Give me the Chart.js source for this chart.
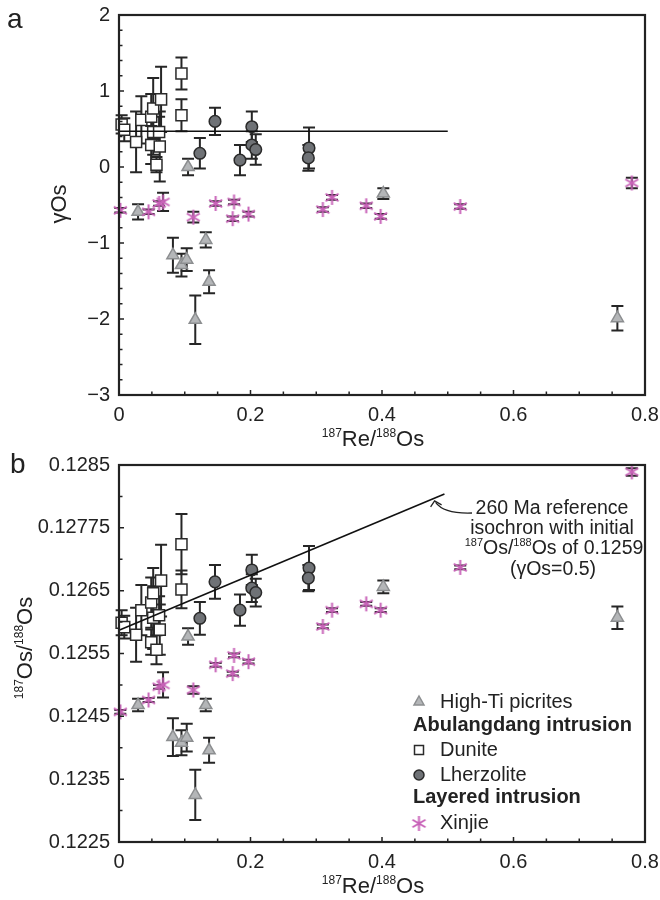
<!DOCTYPE html>
<html>
<head>
<meta charset="utf-8">
<script src="https://cdn.jsdelivr.net/npm/chart.js@4.4.0/dist/chart.umd.min.js"></script>
<style>
  body { margin: 0; background: #fff; }
  canvas { display: block; }
</style>
</head>
<body>
<canvas id="chartA" width="660" height="450"></canvas>
<canvas id="chartB" width="660" height="450"></canvas>
<script>
// ---- data (187Re/188Os is shared by both panels) ----
const highTiRe = [0.029, 0.105, 0.082, 0.095, 0.103, 0.132, 0.137, 0.116, 0.402, 0.758];
const highTiGamma = [-0.59, 0.00, -1.16, -1.29, -1.22, -0.96, -1.51, -2.01, -0.35, -1.99];
const highTiGammaErr = [0.10, 0.11, 0.23, 0.15, 0.15, 0.10, 0.15, 0.32, 0.07, 0.16];
const highTiOs = [0.12468, 0.12577, 0.12417, 0.12408, 0.12416, 0.12468, 0.12396, 0.12325, 0.12656, 0.12607];
const highTiOsErr = [0.00010, 0.00013, 0.00030, 0.00020, 0.00022, 0.00010, 0.00020, 0.00040, 0.00010, 0.00018];

const duniteRe = [0.004, 0.008, 0.026, 0.034, 0.049, 0.049, 0.052, 0.052, 0.057, 0.061, 0.062, 0.064, 0.095, 0.095];
const duniteGamma = [0.56, 0.49, 0.33, 0.62, 0.66, 0.29, 0.77, 0.46, 0.03, 0.46, 0.27, 0.89, 1.23, 0.68];
const duniteGammaErr = [0.12, 0.15, 0.40, 0.31, 0.30, 0.25, 0.40, 0.30, 0.10, 0.20, 0.46, 0.43, 0.21, 0.21];
const duniteOs = [0.12599, 0.12592, 0.12580, 0.12619, 0.12631, 0.12568, 0.12646, 0.12607, 0.12556, 0.12611, 0.12588, 0.12666, 0.12724, 0.12652];
const duniteOsErr = [0.00020, 0.00018, 0.00043, 0.00040, 0.00040, 0.00020, 0.00040, 0.00050, 0.00023, 0.00030, 0.00040, 0.00057, 0.00048, 0.00030];

const lherzRe = [0.123, 0.146, 0.184, 0.202, 0.202, 0.208, 0.289, 0.288];
const lherzGamma = [0.18, 0.60, 0.09, 0.53, 0.29, 0.23, 0.25, 0.12];
const lherzGammaErr = [0.20, 0.18, 0.20, 0.20, 0.18, 0.20, 0.27, 0.17];
const lherzOs = [0.12606, 0.12664, 0.12619, 0.12683, 0.12654, 0.12647, 0.12686, 0.12670];
const lherzOsErr = [0.00026, 0.00027, 0.00025, 0.00024, 0.00022, 0.00022, 0.00035, 0.00021];

const xinjieRe = [0.002, 0.045, 0.061, 0.067, 0.113, 0.147, 0.175, 0.173, 0.197, 0.310, 0.324, 0.376, 0.398, 0.519, 0.780];
const xinjieGamma = [-0.57, -0.59, -0.48, -0.46, -0.66, -0.48, -0.46, -0.68, -0.62, -0.56, -0.40, -0.51, -0.65, -0.52, -0.21];
const xinjieGammaErr = [0.03, 0.03, 0.03, 0.12, 0.07, 0.03, 0.03, 0.03, 0.03, 0.03, 0.03, 0.03, 0.03, 0.03, 0.07];
const xinjieOs = [0.12457, 0.12476, 0.12497, 0.12500, 0.12492, 0.12532, 0.12547, 0.12518, 0.12537, 0.12593, 0.12619, 0.12629, 0.12619, 0.12687, 0.12839];
const xinjieOsErr = [0.00003, 0.00003, 0.00003, 0.00020, 0.00006, 0.00003, 0.00003, 0.00003, 0.00003, 0.00003, 0.00003, 0.00003, 0.00003, 0.00003, 0.00006];

// 260 Ma reference isochron
const isoGammaX = [0, 0.5];
const isoGammaY = [0.47, 0.47];
const isoOsX = [0, 0.495];
const isoOsY = [0.12587, 0.12804];

// ticks
const xTicks = [0, 0.2, 0.4, 0.6, 0.8];
const xTickLabels = ["0", "0.2", "0.4", "0.6", "0.8"];
const gammaTicks = [-3, -2, -1, 0, 1, 2];
const gammaTickLabels = ["\u22123", "\u22122", "\u22121", "0", "1", "2"];
const osTicks = [0.1225, 0.1235, 0.1245, 0.1255, 0.1265, 0.1275, 0.1285];
const osTickLabels = ["0.1225", "0.1235", "0.1245", "0.1255", "0.1265", "0.12775", "0.1285"];

const FONT = "'Liberation Sans', Arial, sans-serif";
const INK = "#222";
const PINK = "#c862b8";
Chart.defaults.font.family = FONT;
Chart.defaults.color = INK;

const pts = (xs, ys, es) => xs.map((x, i) => ({ x: x, y: ys[i], err: es[i] }));

function makeStar(size) {
  const c = document.createElement("canvas");
  c.width = c.height = size;
  const g = c.getContext("2d");
  const m = size / 2, r = size / 2 - 1;
  g.strokeStyle = PINK;
  g.lineWidth = 2;
  g.beginPath();
  for (let k = 0; k < 3; k++) {
    const a = Math.PI / 2 + k * Math.PI / 3;
    g.moveTo(m + r * Math.cos(a), m + r * Math.sin(a));
    g.lineTo(m - r * Math.cos(a), m - r * Math.sin(a));
  }
  g.stroke();
  return c;
}
const starImg = makeStar(17);

// draws text made of [text, isSuperscript] pieces, centered on x
function richText(ctx, parts, x, y, size) {
  const small = Math.round(size * 0.55);
  let w = 0;
  parts.forEach(p => {
    ctx.font = (p[1] ? small : size) + "px " + FONT;
    w += ctx.measureText(p[0]).width;
  });
  let cx = x - w / 2;
  ctx.textAlign = "left";
  ctx.textBaseline = "alphabetic";
  parts.forEach(p => {
    ctx.font = (p[1] ? small : size) + "px " + FONT;
    ctx.fillText(p[0], cx, p[1] ? y - size * 0.42 : y);
    cx += ctx.measureText(p[0]).width;
  });
}

const errorBars = {
  id: "errorBars",
  beforeDatasetsDraw(chart) {
    const { ctx, scales: { x, y } } = chart;
    ctx.save();
    ctx.strokeStyle = "#262626";
    ctx.lineWidth = 2;
    chart.data.datasets.forEach(ds => {
      if (!ds.errorBars) return;
      ds.data.forEach(p => {
        const px = x.getPixelForValue(p.x);
        const top = y.getPixelForValue(p.y + p.err);
        const bot = y.getPixelForValue(p.y - p.err);
        ctx.beginPath();
        ctx.moveTo(px, top); ctx.lineTo(px, bot);
        ctx.moveTo(px - 6, top); ctx.lineTo(px + 6, top);
        ctx.moveTo(px - 6, bot); ctx.lineTo(px + 6, bot);
        ctx.stroke();
      });
    });
    ctx.restore();
  }
};

// frame box plus inward major/minor ticks
function frameTicks(xMinor, yMinor) {
  return {
    id: "frameTicks",
    afterDraw(chart) {
      const { ctx, chartArea: a, scales: { x, y } } = chart;
      ctx.save();
      ctx.strokeStyle = INK;
      ctx.lineWidth = 1.5;
      ctx.beginPath();
      const nx = Math.round((x.max - x.min) / xMinor);
      for (let i = 0; i <= nx; i++) {
        const px = x.getPixelForValue(x.min + i * xMinor);
        const len = i % 4 === 0 ? 5 : 3.5;
        ctx.moveTo(px, a.bottom); ctx.lineTo(px, a.bottom - len);
      }
      const ny = Math.round((y.max - y.min) / yMinor);
      const per = Math.round(1 / yMinor * (y.max - y.min) / (y.ticks.length - 1));
      for (let i = 0; i <= ny; i++) {
        const py = y.getPixelForValue(y.min + i * yMinor);
        const len = i % per === 0 ? 5 : 3.5;
        ctx.moveTo(a.left, py); ctx.lineTo(a.left + len, py);
      }
      ctx.stroke();
      ctx.lineWidth = 2.2;
      ctx.strokeRect(a.left, a.top, a.right - a.left, a.bottom - a.top);
      ctx.restore();
    }
  };
}

function scatterSet(label, data, style) {
  return Object.assign({
    label: label,
    data: data,
    showLine: false,
    clip: false,
    errorBars: true,
    pointBorderWidth: 1.5,
    pointHoverRadius: 0
  }, style);
}

const lineStyle = { type: "line", showLine: true, clip: false, borderColor: "#111", borderWidth: 1.6, pointRadius: 0, fill: false };
const xinjieStyle = { pointStyle: starImg, pointRadius: 8 };
const lherzStyle = { pointStyle: "circle", pointRadius: 5.8, pointBackgroundColor: "#6f7276", pointBorderColor: "#2a2a2a" };
const duniteStyle = { pointStyle: "rect", pointRadius: 7.8, pointBackgroundColor: "#fff", pointBorderColor: "#2a2a2a" };
const highTiStyle = { pointStyle: "triangle", pointRadius: 7, pointBackgroundColor: "#b4b6b8", pointBorderColor: "#8c8e90" };

function axisOptions(yTicks, yLabels, yMin, yMax, xHeight) {
  return {
    x: {
      type: "linear", min: 0, max: 0.8,
      grid: { display: false, drawTicks: false },
      border: { display: false },
      afterBuildTicks: s => { s.ticks = xTicks.map(v => ({ value: v })); },
      afterFit: s => { s.height = xHeight; s.paddingLeft = 0; s.paddingRight = 0; },
      ticks: { autoSkip: false, maxRotation: 0, padding: 8, font: { size: 20 }, color: INK,
               callback: (v, i) => xTickLabels[i] }
    },
    y: {
      type: "linear", min: yMin, max: yMax,
      grid: { display: false, drawTicks: false },
      border: { display: false },
      afterBuildTicks: s => { s.ticks = yTicks.map(v => ({ value: v })); },
      afterFit: s => { s.width = 119; s.paddingTop = 0; s.paddingBottom = 0; },
      ticks: { autoSkip: false, padding: 9, font: { size: 20 }, color: INK,
               callback: (v, i) => yLabels[i] }
    }
  };
}

const baseOptions = {
  responsive: false,
  animation: false,
  devicePixelRatio: 1,
  events: [],
  plugins: { legend: { display: false }, tooltip: { enabled: false } }
};

// ---- panel a ----
const textA = {
  id: "textA",
  afterDraw(chart) {
    const ctx = chart.ctx;
    ctx.save();
    ctx.fillStyle = INK;
    ctx.font = "28px " + FONT;
    ctx.textAlign = "left";
    ctx.textBaseline = "alphabetic";
    ctx.fillText("a", 7, 28);
    richText(ctx, [["187", true], ["Re/", false], ["188", true], ["Os", false]], 373, 446, 22);
    ctx.translate(58, 204);
    ctx.rotate(-Math.PI / 2);
    richText(ctx, [["\u03b3Os", false]], 0, 8, 22);
    ctx.restore();
  }
};

new Chart(document.getElementById("chartA"), {
  type: "scatter",
  data: {
    datasets: [
      Object.assign({ data: isoGammaX.map((x, i) => ({ x: x, y: isoGammaY[i] })) }, lineStyle),
      scatterSet("Xinjie", pts(xinjieRe, xinjieGamma, xinjieGammaErr), xinjieStyle),
      scatterSet("Lherzolite", pts(lherzRe, lherzGamma, lherzGammaErr), lherzStyle),
      scatterSet("Dunite", pts(duniteRe, duniteGamma, duniteGammaErr), duniteStyle),
      scatterSet("High-Ti picrites", pts(highTiRe, highTiGamma, highTiGammaErr), highTiStyle)
    ]
  },
  options: Object.assign({}, baseOptions, {
    layout: { padding: { left: 0, right: 15, top: 15, bottom: 0 } },
    scales: axisOptions(gammaTicks, gammaTickLabels, -3, 2, 55)
  }),
  plugins: [errorBars, frameTicks(0.05, 0.2), textA]
});

// ---- panel b ----
const textB = {
  id: "textB",
  afterDraw(chart) {
    const { ctx, scales: { x, y } } = chart;
    ctx.save();
    ctx.fillStyle = INK;
    ctx.strokeStyle = INK;
    ctx.font = "28px " + FONT;
    ctx.textAlign = "left";
    ctx.textBaseline = "alphabetic";
    ctx.fillText("b", 10, 23);
    richText(ctx, [["187", true], ["Re/", false], ["188", true], ["Os", false]], 373, 443, 22);

    // isochron note and arrow
    richText(ctx, [["260 Ma reference", false]], 552, 64, 19.5);
    richText(ctx, [["isochron with initial", false]], 552, 84, 19.5);
    richText(ctx, [["187", true], ["Os/", false], ["188", true], ["Os of 0.1259", false]], 554, 104, 19.5);
    richText(ctx, [["(\u03b3Os=0.5)", false]], 553, 125, 19.5);
    const tx = x.getPixelForValue(0.48), ty = y.getPixelForValue(0.12793);
    ctx.lineWidth = 1.3;
    ctx.beginPath();
    ctx.moveTo(472, 63);
    ctx.quadraticCurveTo(444, 64, tx + 1, ty + 1.5);
    ctx.stroke();
    ctx.beginPath();
    ctx.moveTo(tx - 4, ty + 6);
    ctx.lineTo(tx, ty);
    ctx.lineTo(tx + 7, ty + 4);
    ctx.stroke();

    // legend
    const mx = 419;
    ctx.lineWidth = 1.5;
    ctx.fillStyle = "#b4b6b8"; ctx.strokeStyle = "#8c8e90";
    ctx.beginPath();
    ctx.moveTo(mx, 246); ctx.lineTo(mx + 5, 255); ctx.lineTo(mx - 5, 255); ctx.closePath();
    ctx.fill(); ctx.stroke();
    ctx.fillStyle = "#fff"; ctx.strokeStyle = "#2a2a2a";
    ctx.fillRect(mx - 4.5, 295.5, 9, 9); ctx.strokeRect(mx - 4.5, 295.5, 9, 9);
    ctx.fillStyle = "#6f7276";
    ctx.beginPath(); ctx.arc(mx, 325, 5, 0, Math.PI * 2); ctx.fill(); ctx.stroke();
    ctx.drawImage(starImg, mx - 8.5, 373.5 - 8.5);

    ctx.fillStyle = INK;
    ctx.textBaseline = "middle";
    ctx.font = "20px " + FONT;
    ctx.fillText("High-Ti picrites", 440, 252);
    ctx.fillText("Dunite", 440, 300);
    ctx.fillText("Lherzolite", 440, 325);
    ctx.fillText("Xinjie", 440, 373);
    ctx.font = "bold 20px " + FONT;
    ctx.fillText("Abulangdang intrusion", 413, 275);
    ctx.fillText("Layered intrusion", 413, 347);

    ctx.translate(24, 198);
    ctx.rotate(-Math.PI / 2);
    ctx.fillStyle = INK;
    richText(ctx, [["187", true], ["Os/", false], ["188", true], ["Os", false]], 0, 8, 22);
    ctx.restore();
  }
};

new Chart(document.getElementById("chartB"), {
  type: "scatter",
  data: {
    datasets: [
      Object.assign({ data: isoOsX.map((x, i) => ({ x: x, y: isoOsY[i] })) }, lineStyle),
      scatterSet("Xinjie", pts(xinjieRe, xinjieOs, xinjieOsErr), xinjieStyle),
      scatterSet("Lherzolite", pts(lherzRe, lherzOs, lherzOsErr), lherzStyle),
      scatterSet("Dunite", pts(duniteRe, duniteOs, duniteOsErr), duniteStyle),
      scatterSet("High-Ti picrites", pts(highTiRe, highTiOs, highTiOsErr), highTiStyle)
    ]
  },
  options: Object.assign({}, baseOptions, {
    layout: { padding: { left: 0, right: 15, top: 15, bottom: 0 } },
    scales: axisOptions(osTicks, osTickLabels, 0.1225, 0.1285, 58)
  }),
  plugins: [errorBars, frameTicks(0.05, 0.0005), textB]
});
</script>
</body>
</html>
